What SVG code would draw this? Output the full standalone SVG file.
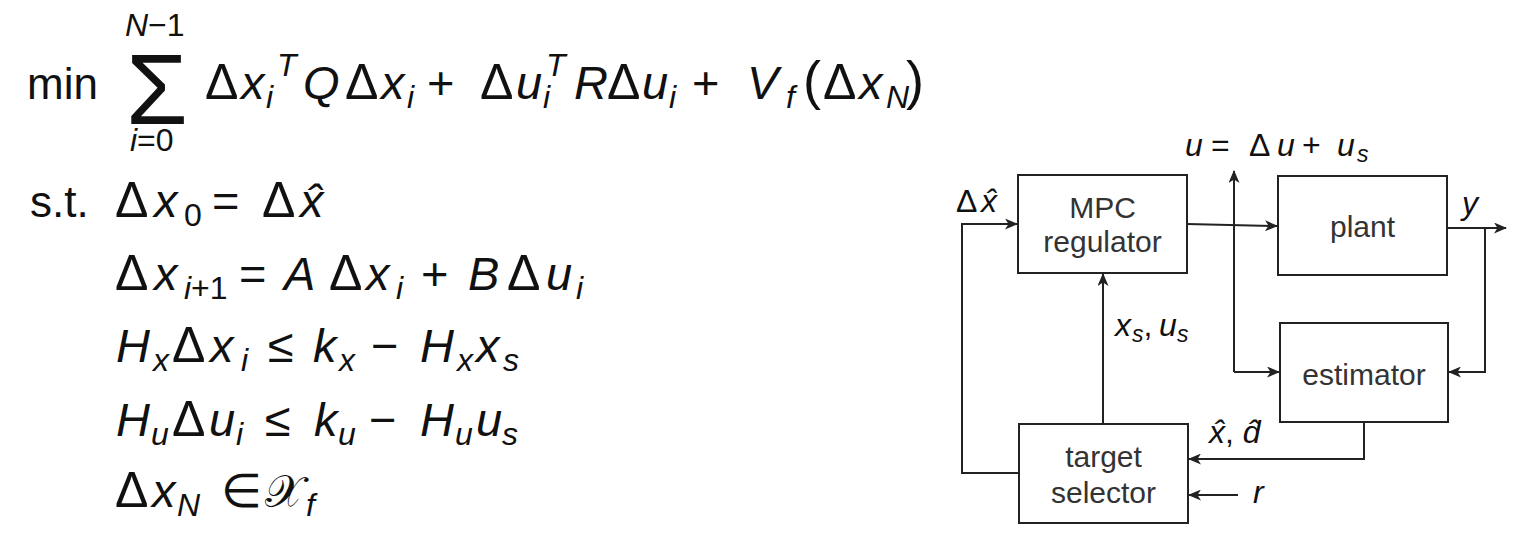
<svg xmlns="http://www.w3.org/2000/svg" width="1520" height="551" viewBox="0 0 1520 551">
<style>
.m{font-family:"Liberation Sans",Arial,sans-serif;font-size:47px;fill:#111}
.i{font-style:italic}
.d{font-size:50px}
.s{font-size:32px}
.lb{font-family:"Liberation Sans",Arial,sans-serif;font-size:32px;fill:#111}
.ss{font-size:23px}
.bx{fill:#fff;stroke:#222;stroke-width:2}
.bt{font-family:"Liberation Sans",Arial,sans-serif;font-size:30px;fill:#333;text-anchor:middle}
.c{fill:none;stroke:#222;stroke-width:2}
</style>
<defs>
<marker id="ar" viewBox="0 0 13 11" refX="12" refY="5.5" markerWidth="13" markerHeight="11" markerUnits="userSpaceOnUse" orient="auto">
<path d="M0,0 L13,5.5 L0,11 L3.5,5.5 z" fill="#222"/>
</marker>
</defs>
<rect width="1520" height="551" fill="#fff"/>

<g id="equations">
<text class="m" x="27" y="99" style="font-size:44px">min</text>
<text class="m" x="126" y="124" style="font-size:100px">Σ</text>
<text class="m s" y="36"><tspan x="125" class="i">N</tspan><tspan>−1</tspan></text>
<text class="m s" y="151"><tspan x="130" class="i">i</tspan><tspan>=0</tspan></text>
<text class="m" y="99"><tspan x="205" class="d">Δ</tspan><tspan x="241" class="i">x</tspan><tspan x="266" dy="9" class="i s">i</tspan><tspan x="277" dy="-32" class="i s">T</tspan><tspan x="303" dy="23" class="i">Q</tspan><tspan x="345" class="d">Δ</tspan><tspan x="381" class="i">x</tspan><tspan x="407" dy="9" class="i s">i</tspan><tspan x="427" dy="-9">+</tspan><tspan x="480" class="d">Δ</tspan><tspan x="516" class="i">u</tspan><tspan x="543" dy="9" class="i s">i</tspan><tspan x="546" dy="-32" class="i s">T</tspan><tspan x="574" dy="23" class="i">R</tspan><tspan x="607" class="d">Δ</tspan><tspan x="642" class="i">u</tspan><tspan x="669" dy="9" class="i s">i</tspan><tspan x="692" dy="-9">+</tspan><tspan x="747" class="i">V</tspan><tspan x="786" dy="9" class="i s">f</tspan><tspan x="803" dy="-9" style="font-size:54px">(</tspan><tspan x="823" class="d">Δ</tspan><tspan x="859" class="i">x</tspan><tspan x="886" dy="9" class="i s">N</tspan><tspan x="906" dy="-9" style="font-size:54px">)</tspan></text>

<text class="m" y="217"><tspan x="30" style="font-size:44px">s.t.</tspan><tspan x="115" class="d">Δ</tspan><tspan x="154" class="i">x</tspan><tspan x="184" dy="9" class="s">0</tspan><tspan x="212" dy="-9">=</tspan><tspan x="262" class="d">Δ</tspan><tspan x="300" class="i">x̂</tspan></text>

<text class="m" y="290"><tspan x="115" class="d">Δ</tspan><tspan x="154" class="i">x</tspan><tspan x="184" dy="9" class="s"><tspan class="i">i</tspan>+1</tspan><tspan x="239" dy="-9">=</tspan><tspan x="284" class="i">A</tspan><tspan x="329" class="d">Δ</tspan><tspan x="366" class="i">x</tspan><tspan x="396" dy="9" class="i s">i</tspan><tspan x="421" dy="-9">+</tspan><tspan x="468" class="i">B</tspan><tspan x="507" class="d">Δ</tspan><tspan x="546" class="i">u</tspan><tspan x="576" dy="9" class="i s">i</tspan></text>

<text class="m" y="362"><tspan x="116" class="i">H</tspan><tspan x="153" dy="9" class="i s">x</tspan><tspan x="172" dy="-9" class="d">Δ</tspan><tspan x="210" class="i">x</tspan><tspan x="241" dy="9" class="i s">i</tspan><tspan x="268" dy="-9">≤</tspan><tspan x="313" class="i">k</tspan><tspan x="339" dy="9" class="i s">x</tspan><tspan x="371" dy="-9">−</tspan><tspan x="420" class="i">H</tspan><tspan x="457" dy="9" class="i s">x</tspan><tspan x="476" dy="-9" class="i">x</tspan><tspan x="503" dy="9" class="i s">s</tspan></text>

<text class="m" y="436"><tspan x="116" class="i">H</tspan><tspan x="151" dy="9" class="i s">u</tspan><tspan x="172" dy="-9" class="d">Δ</tspan><tspan x="209" class="i">u</tspan><tspan x="236" dy="9" class="i s">i</tspan><tspan x="265" dy="-9">≤</tspan><tspan x="314" class="i">k</tspan><tspan x="338" dy="9" class="i s">u</tspan><tspan x="369" dy="-9">−</tspan><tspan x="420" class="i">H</tspan><tspan x="455" dy="9" class="i s">u</tspan><tspan x="476" dy="-9" class="i">u</tspan><tspan x="502" dy="9" class="i s">s</tspan></text>

<text class="m" y="507"><tspan x="115" class="d">Δ</tspan><tspan x="152" class="i">x</tspan><tspan x="177" dy="9" class="i s">N</tspan><tspan x="221" dy="-9">∈</tspan><tspan x="265" style="font-family:'DejaVu Sans',sans-serif;font-size:45px">𝒳</tspan></text>
<text class="m i s" x="306" y="516">f</text>
</g>

<g id="connectors">
<path class="c" d="M1019,473 H962 V224 H1017" marker-end="url(#ar)"/>
<path class="c" d="M1187,224 L1277,226" marker-end="url(#ar)"/>
<path class="c" d="M1234,372 V171" marker-end="url(#ar)"/>
<path class="c" d="M1234,372 H1279" marker-end="url(#ar)"/>
<path class="c" d="M1447,228 H1506" marker-end="url(#ar)"/>
<path class="c" d="M1485,228 V372 H1449" marker-end="url(#ar)"/>
<path class="c" d="M1364,422 V459 H1189" marker-end="url(#ar)"/>
<path class="c" d="M1238,495 H1189" marker-end="url(#ar)"/>
<path class="c" d="M1103,424 V274" marker-end="url(#ar)"/>
</g>

<g id="labels">
<text class="lb" y="156"><tspan x="1185" class="i">u</tspan><tspan x="1211">=</tspan><tspan x="1249">Δ</tspan><tspan x="1277" class="i">u</tspan><tspan x="1302">+</tspan><tspan x="1337" class="i">u</tspan><tspan x="1357" dy="6" class="i ss">s</tspan></text>
<text class="lb" y="212"><tspan x="956">Δ</tspan><tspan x="981" class="i">x̂</tspan></text>
<text class="lb i" x="1462" y="214">y</text>
<text class="lb" y="336"><tspan x="1115" class="i">x</tspan><tspan x="1132" dy="6" class="i ss">s</tspan><tspan dy="-6">, </tspan><tspan x="1159" class="i">u</tspan><tspan x="1177" dy="6" class="i ss">s</tspan></text>
<text class="lb" y="443"><tspan x="1209" class="i">x̂</tspan><tspan>, </tspan><tspan class="i">d̂</tspan></text>
<text class="lb i" x="1253" y="503">r</text>
</g>

<g id="mpc"><rect class="bx" x="1018" y="175" width="169" height="98"/><text class="bt" x="1102.5" y="218">MPC</text><text class="bt" x="1102.5" y="252">regulator</text></g>
<g id="plant"><rect class="bx" x="1278" y="176" width="169" height="99"/><text class="bt" x="1362.5" y="237">plant</text></g>
<g id="estimator"><rect class="bx" x="1280" y="323" width="168" height="99"/><text class="bt" x="1364" y="385">estimator</text></g>
<g id="target"><rect class="bx" x="1019" y="424" width="169" height="99"/><text class="bt" x="1103.5" y="467">target</text><text class="bt" x="1103.5" y="503">selector</text></g>
</svg>
